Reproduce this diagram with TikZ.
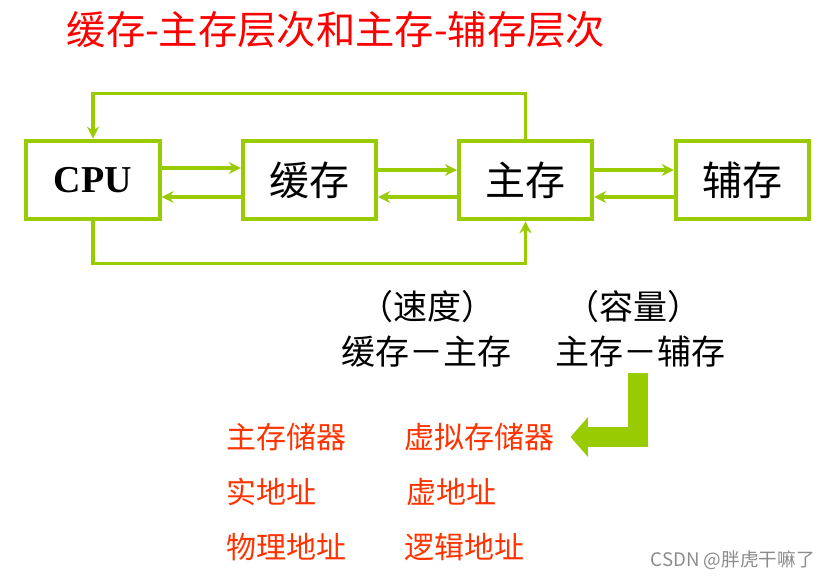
\documentclass[tikz,border=0pt]{standalone}
\usepackage{fontspec}
\usepackage{xcolor}
\usepackage{tikz}
\usetikzlibrary{arrows.meta,calc,positioning}
\newfontfamily\cjk{Noto Sans CJK SC}
\newfontfamily\cpufont{Liberation Serif}
\definecolor{lime}{HTML}{99CC00}
\definecolor{hotred}{HTML}{FF0000}
\definecolor{orred}{HTML}{FF3300}

\begin{document}
\begin{tikzpicture}[x=0.75pt, y=-0.75pt,
    box/.style={draw=lime, line width=3pt, fill=white, minimum width=100pt, minimum height=59pt, inner sep=0pt, font=\cjk\fontsize{30}{32}\selectfont},
    link/.style={draw=lime, line width=2.3pt, -{Stealth[length=9pt,width=9pt,inset=3pt]}},
    midtext/.style={inner sep=0pt, font=\cjk\fontsize{25.5}{28}\selectfont},
    redtext/.style={inner sep=0pt, anchor=west, text=orred, font=\cjk\fontsize{22.5}{24}\selectfont}]
   \useasboundingbox (0,0) rectangle (829,580);
   \node (title) [inner sep=0pt, text=hotred, font=\cjk\fontsize{29.5}{31}\selectfont] at (336,30) {缓存-主存层次和主存-辅存层次};
   % the four storage levels
   \begin{scope}[every node/.style={box}]
    \node (cpu) [font=\cpufont\bfseries\fontsize{28.5}{30}\selectfont] at (93,180) {CPU};
    \node (cache) at (309.5,180) {缓存};
    \node (main) at (525.5,180) {主存};
    \node (aux) at (742.5,180) {辅存};
   \end{scope}
   \begin{scope}[every edge/.style={link}]
    \draw ($(cpu.east)+(0,-12)$) edge ($(cache.west)+(0,-12)$);
    \draw ($(cache.west)+(0,17)$) edge ($(cpu.east)+(0,17)$);
    \draw ($(cache.east)+(0,-10)$) edge ($(main.west)+(0,-10)$);
    \draw ($(main.west)+(0,17)$) edge ($(cache.east)+(0,17)$);
    \draw ($(main.east)+(0,-10)$) edge ($(aux.west)+(0,-10)$);
    \draw ($(aux.west)+(0,17)$) edge ($(main.east)+(0,17)$);
   \end{scope}
   \draw [link] (main.north) -- ++(0,-45) -| (cpu.north);
   \draw [link] (cpu.south) -- ++(0,42) -| (main.south);
   % speed / capacity
   \node (speed) [midtext] at (427,307) {（速度）};
   \node (cap) [midtext] at (633,307) {（容量）};
   \node (pair1) [midtext] at (426,352) {缓存－主存};
   \node (pair2) [midtext] at (640,352) {主存－辅存};
   \node (mainmem) [redtext] at (226,437) {主存储器};
   \node (virt) [redtext] at (404,437) {虚拟存储器};
   \node (real) [redtext] at (226,492) {实地址};
   \node (vaddr) [redtext] at (406,492) {虚地址};
   \node (phys) [redtext] at (226,547) {物理地址};
   \node (logic) [redtext] at (404,547) {逻辑地址};
   \coordinate (bend) at (638,373);
   \draw [draw=lime, line width=15pt, line join=miter, -{Triangle[length=13pt,width=29pt]}] (bend) |- ([xshift=12pt]virt.east);
   \node (mark) [anchor=east, inner sep=0pt, text=black!45, font=\cjk\fontsize{14}{16}\selectfont] at (815,560) {CSDN @胖虎干嘛了};
\end{tikzpicture}
\end{document}
